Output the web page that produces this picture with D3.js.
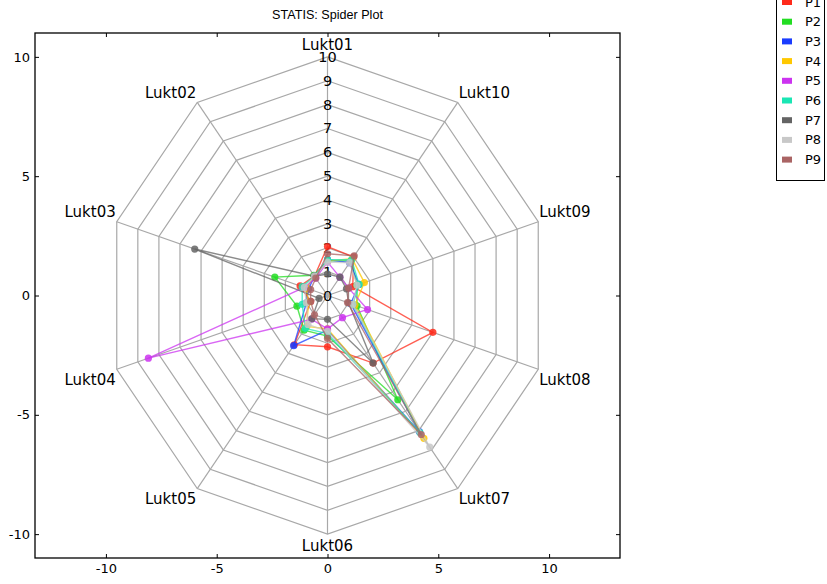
<!DOCTYPE html>
<html><head><meta charset="utf-8">
<script src="https://cdn.jsdelivr.net/npm/d3@7"></script>
<style>body{margin:0;background:#fff}svg{display:block}</style>
</head><body>
<script>
const axesLabels = ["Lukt01","Lukt02","Lukt03","Lukt04","Lukt05","Lukt06","Lukt07","Lukt08","Lukt09","Lukt10"];
const seriesNames = ["P1","P2","P3","P4","P5","P6","P7","P8","P9"];
const seriesColors = ["#ff2a1a","#22dd22","#1a3cff","#ffc800","#cc33f0","#1ae6b4","#646464","#c8c8c8","#aa6464"];
const P1 = [2.05, 1.0, 1.3, 0.8, 2.55, 2.15, 3.5, 5.0, 1.2, 2.0];
const P2 = [1.45, 1.05, 2.5, 1.45, 1.8, 1.7, 5.4, 1.4, 1.4, 1.8];
const P3 = [1.5, 1.0, 0.9, 1.0, 2.6, 1.45, 7.05, 1.1, 1.5, 1.7];
const P4 = [1.45, 1.0, 1.0, 0.9, 1.6, 1.4, 7.4, 1.3, 1.75, 1.9];
const P5 = [1.4, 0.9, 1.1, 8.5, 1.23, 1.4, 1.15, 1.9, 1.0, 0.95];
const P6 = [1.5, 1.0, 1.2, 1.2, 1.7, 1.6, 7.1, 1.2, 1.5, 1.85];
const P7 = [0.9, 1.0, 6.3, 0.4, 1.2, 1.0, 3.5, 1.0, 0.9, 0.95];
const P8 = [1.4, 1.0, 1.1, 1.0, 1.5, 1.5, 7.85, 1.2, 1.4, 1.7];
const P9 = [1.75, 0.9, 0.8, 0.8, 1.0, 1.8, 7.2, 0.95, 1.0, 2.05];
const seriesValues = [P1,P2,P3,P4,P5,P6,P7,P8,P9];
const ringLevels = [1,2,3,4,5,6,7,8,9,10];
const ringLabels = ["0","1","2","3","4","5","6","7","8","9","10"];
const axisTicks = [-10,-5,0,5,10];
const titleText = "STATIS: Spider Plot";

const W = 827, H = 584;
const L = 35, R = 620, T = 33, B = 558;
const svg = d3.select("body").append("svg").attr("width", W).attr("height", H);
const x = d3.scaleLinear().domain([-13.2, 13.2]).range([L, R]);
const y = d3.scaleLinear().domain([-11, 11]).range([B, T]);
const n = axesLabels.length;
const ang = i => Math.PI/2 + i*2*Math.PI/n;
const pt = (r,i) => [x(r*Math.cos(ang(i))), y(r*Math.sin(ang(i)))];
const font = "DejaVu Sans, sans-serif";

// grid rings
const gGrid = svg.append("g").attr("fill","none").attr("stroke","#a8a8a8").attr("stroke-width",1.2);
ringLevels.forEach(r => {
  gGrid.append("path").attr("d", d3.line()(d3.range(n+1).map(i => pt(r, i % n))));
});
d3.range(n).forEach(i => {
  const [x0,y0] = pt(0,i), [x1,y1] = pt(10,i);
  gGrid.append("line").attr("x1",x0).attr("y1",y0).attr("x2",x1).attr("y2",y1);
});

// ring value labels along first spoke
svg.append("g").selectAll("text").data(ringLabels).join("text")
  .attr("x", x(0)).attr("y", (d,i) => y(i))
  .attr("text-anchor","middle").attr("dominant-baseline","central")
  .attr("font-family",font).attr("font-size",14.5).attr("fill","#000").text(d => d);

// axis labels
svg.append("g").selectAll("text").data(axesLabels).join("text")
  .each(function(d,i){
    const c = Math.cos(ang(i)), s = Math.sin(ang(i));
    const [vx,vy] = pt(10,i);
    const t = d3.select(this);
    let anchor = "middle", tx = vx;
    if (c > 0.01) { anchor = "start"; tx = vx + 1; }
    else if (c < -0.01) { anchor = "end"; tx = vx - 1; }
    let ty;
    if (s > 0.99) { ty = vy - 7; }
    else if (s > 0.01) { ty = vy - 4.5; }
    else if (s < -0.99) { ty = vy + 17; }
    else { ty = vy + 15.5; }
    t.attr("x",tx).attr("y",ty).attr("text-anchor",anchor);
  })
  .attr("font-family",font).attr("font-size",15).attr("fill","#000").text(d => d);

// series
const gS = svg.append("g");
seriesValues.forEach((vals, k) => {
  const pts = vals.map((v,i) => pt(v,i));
  gS.append("path").attr("d", d3.line()(pts.concat([pts[0]])))
    .attr("fill","none").attr("stroke",seriesColors[k]).attr("stroke-width",1.4).attr("stroke-opacity",0.75);
  gS.append("g").selectAll("circle").data(pts).join("circle")
    .attr("cx",d=>d[0]).attr("cy",d=>d[1]).attr("r",3.6)
    .attr("fill",seriesColors[k]).attr("fill-opacity",0.85);
});

// axes with inward ticks
const fmt = d => String(d);
const axStyle = g => { g.select(".domain").remove(); g.selectAll("text").attr("font-family",font).attr("font-size",13).attr("fill","#000"); g.selectAll("line").attr("stroke","#000"); };
svg.append("g").attr("transform",`translate(0,${B})`).call(d3.axisBottom(x).tickValues(axisTicks).tickSizeInner(-4).tickSizeOuter(0).tickPadding(6).tickFormat(fmt)).call(axStyle);
svg.append("g").attr("transform",`translate(${L},0)`).call(d3.axisLeft(y).tickValues(axisTicks).tickSizeInner(-4).tickSizeOuter(0).tickPadding(5).tickFormat(fmt)).call(axStyle);
svg.append("g").attr("transform",`translate(0,${T})`).call(d3.axisTop(x).tickValues(axisTicks).tickSizeInner(-4).tickSizeOuter(0).tickFormat("")).call(axStyle);
svg.append("g").attr("transform",`translate(${R},0)`).call(d3.axisRight(y).tickValues(axisTicks).tickSizeInner(-4).tickSizeOuter(0).tickFormat("")).call(axStyle);
svg.append("rect").attr("x",L).attr("y",T).attr("width",R-L).attr("height",B-T)
  .attr("fill","none").attr("stroke","#000").attr("stroke-width",1.3);

// title
svg.append("text").attr("x",(L+R)/2).attr("y",19).attr("text-anchor","middle")
  .attr("font-family","Liberation Sans, Arial, sans-serif").attr("font-size",12.6).attr("fill","#000").text(titleText);

// legend
const lg = svg.append("g");
lg.append("rect").attr("x",776.5).attr("y",-2).attr("width",48).attr("height",182.5)
  .attr("fill","#fff").attr("stroke","#000").attr("stroke-width",1);
seriesNames.forEach((nm,k) => {
  const cy = 2 + 19.7*k;
  lg.append("rect").attr("x",782).attr("y",cy-3).attr("width",10).attr("height",6).attr("fill",seriesColors[k]);
  lg.append("text").attr("x",805).attr("y",cy).attr("dominant-baseline","central")
    .attr("font-family",font).attr("font-size",13).attr("fill","#000").text(nm);
});
</script>
</body></html>
